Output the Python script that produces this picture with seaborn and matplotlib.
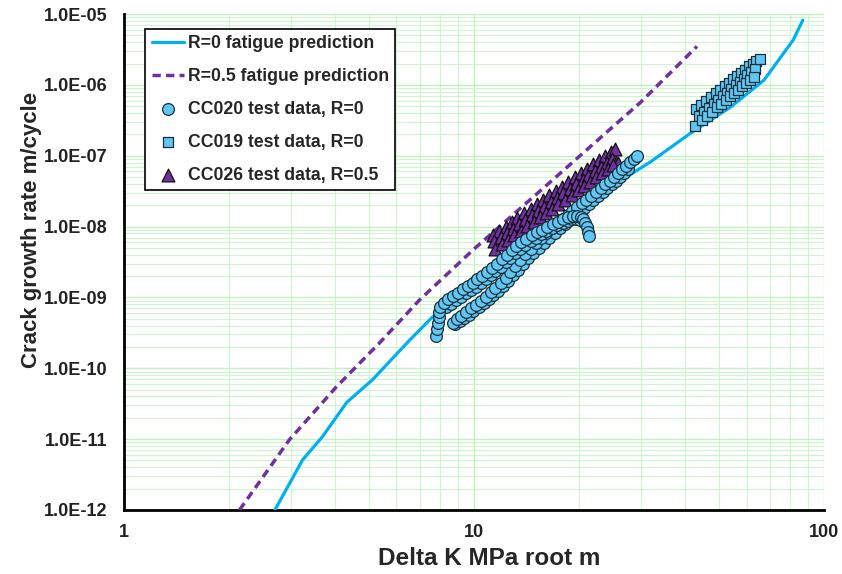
import numpy as np
import pandas as pd
import matplotlib
matplotlib.use("Agg")
import matplotlib.pyplot as plt
import seaborn as sns
from matplotlib.ticker import FuncFormatter, LogLocator, NullFormatter

# R=0 fatigue prediction (solid line)
r0_dk = [2.7, 3.24, 3.69, 4.33, 5.13, 6.55, 7.58, 10.0, 14.0, 19.2, 31.9, 41.6, 54.1, 67.3, 81.5, 86.8]
r0_rate = [1.0e-12, 5.1e-12, 1.08e-11, 3.3e-11, 6.9e-11, 2.5e-10, 5.2e-10, 1.5e-9, 5.5e-9, 1.7e-8,
           8.2e-8, 2.1e-7, 4.9e-7, 1.17e-6, 4.3e-6, 8.2e-6]

# R=0.5 fatigue prediction (dashed line)
r05_dk = [2.14, 2.97, 4.05, 5.38, 7.0, 9.94, 16.8, 29.9, 43.3]
r05_rate = [1.0e-12, 9.8e-12, 5.5e-11, 2.3e-10, 9.3e-10, 4.7e-9, 4.6e-8, 5.7e-7, 3.5e-6]

# CC020 test data, R=0 -- upper run (hooks over near 20), two rows of readings
cc020_dk_a1 = [7.80, 7.83, 7.87, 7.92, 7.96, 8.0, 8.2, 8.45, 8.7, 9.0, 9.3, 9.6, 9.9, 10.2, 10.55,
               10.9, 11.25, 11.6, 12.0, 12.4, 12.8, 13.2, 13.65, 14.1, 14.6, 15.1, 15.65, 16.2,
               16.8, 17.4, 18.0, 18.6, 19.2, 19.7, 20.15, 20.5, 20.8, 21.0, 21.2, 21.35]
cc020_rate_a1 = [2.9e-10, 3.6e-10, 4.4e-10, 5.3e-10, 6.3e-10, 7.4e-10, 8.4e-10, 9.4e-10, 1.04e-9,
                 1.16e-9, 1.3e-9, 1.45e-9, 1.62e-9, 1.8e-9, 2.02e-9, 2.28e-9, 2.6e-9, 2.98e-9,
                 3.45e-9, 4.0e-9, 4.6e-9, 5.3e-9, 6.0e-9, 6.7e-9, 7.5e-9, 8.3e-9, 9.1e-9, 1.0e-8,
                 1.09e-8, 1.18e-8, 1.27e-8, 1.35e-8, 1.41e-8, 1.43e-8, 1.38e-8, 1.27e-8, 1.13e-8,
                 9.8e-9, 8.5e-9, 7.4e-9]
cc020_dk_a2 = [8.3, 8.6, 8.9, 9.2, 9.5, 9.8, 10.1, 10.45, 10.8, 11.15, 11.5, 11.9, 12.3, 12.7, 13.1,
               13.55, 14.0, 14.5, 15.0, 15.55, 16.1, 16.7, 17.3, 17.9, 18.5, 19.1, 19.6, 20.1]
cc020_rate_a2 = [7.4e-10, 8.2e-10, 9.1e-10, 1.02e-9, 1.14e-9, 1.27e-9, 1.42e-9, 1.6e-9, 1.8e-9,
                 2.05e-9, 2.35e-9, 2.7e-9, 3.15e-9, 3.65e-9, 4.2e-9, 4.85e-9, 5.5e-9, 6.2e-9,
                 7.0e-9, 7.8e-9, 8.7e-9, 9.6e-9, 1.05e-8, 1.13e-8, 1.2e-8, 1.26e-8, 1.28e-8, 1.24e-8]
# CC020 lower run (keeps climbing to ~29)
cc020_dk_b1 = [8.7, 8.95, 9.2, 9.5, 9.8, 10.1, 10.45, 10.8, 11.15, 11.5, 11.9, 12.3, 12.7, 13.1,
               13.55, 14.0, 14.5, 15.0, 15.55, 16.1, 16.7, 17.3, 17.9, 18.5, 19.1, 19.7, 20.3,
               20.9, 21.6, 22.3, 23.0, 23.7, 24.4, 25.1, 25.8, 26.5, 27.2, 27.9, 28.6, 29.2]
cc020_rate_b1 = [4.4e-10, 4.9e-10, 5.5e-10, 6.2e-10, 7.0e-10, 7.9e-10, 9.0e-10, 1.03e-9, 1.18e-9,
                 1.36e-9, 1.6e-9, 1.9e-9, 2.3e-9, 2.8e-9, 3.4e-9, 4.1e-9, 4.9e-9, 5.8e-9, 6.9e-9,
                 8.1e-9, 9.5e-9, 1.1e-8, 1.27e-8, 1.45e-8, 1.65e-8, 1.88e-8, 2.13e-8, 2.4e-8,
                 2.72e-8, 3.08e-8, 3.5e-8, 3.95e-8, 4.45e-8, 5.0e-8, 5.65e-8, 6.4e-8, 7.2e-8,
                 8.1e-8, 9.1e-8, 1.0e-7]
cc020_dk_b2 = [8.85, 9.1, 9.35, 9.65, 9.95, 10.3, 10.65, 11.0, 11.35, 11.7, 12.1, 12.5, 12.9, 13.35,
               13.8, 14.25, 14.75, 15.3, 15.8, 16.4, 17.0, 17.6, 18.2, 18.8, 19.4, 20.0, 20.6,
               21.25, 21.9, 22.6, 23.3, 24.0, 24.7, 25.4, 26.1, 26.8, 27.5]
cc020_rate_b2 = [4.2e-10, 4.6e-10, 5.1e-10, 5.7e-10, 6.4e-10, 7.3e-10, 8.3e-10, 9.5e-10, 1.09e-9,
                 1.25e-9, 1.46e-9, 1.72e-9, 2.05e-9, 2.48e-9, 3.0e-9, 3.55e-9, 4.25e-9, 5.05e-9,
                 5.9e-9, 7.0e-9, 8.2e-9, 9.5e-9, 1.1e-8, 1.26e-8, 1.44e-8, 1.64e-8, 1.85e-8, 2.1e-8,
                 2.4e-8, 2.72e-8, 3.08e-8, 3.5e-8, 3.95e-8, 4.45e-8, 5.0e-8, 5.65e-8, 6.4e-8]

# CC019 test data, R=0
cc019_dk = [43.0, 44.5, 46.0, 47.5, 49.0, 50.5, 52.0, 53.5, 55.0, 56.5, 58.0, 59.5, 61.0, 62.5, 64.0,
            43.8, 45.3, 46.8, 48.3, 49.8, 51.3, 52.8, 54.3, 55.8, 57.3, 58.8, 60.3, 61.8, 63.3, 65.5,
            42.8, 44.8, 46.3, 47.8, 49.3, 50.8, 52.3, 53.8, 55.3, 56.8, 58.3, 59.8, 61.3, 62.8]
cc019_rate = [4.5e-7, 5.2e-7, 5.9e-7, 6.7e-7, 7.6e-7, 8.6e-7, 9.6e-7, 1.08e-6, 1.2e-6, 1.34e-6,
              1.49e-6, 1.65e-6, 1.82e-6, 2.0e-6, 2.2e-6,
              3.6e-7, 4.1e-7, 4.7e-7, 5.4e-7, 6.1e-7, 6.9e-7, 7.8e-7, 8.8e-7, 9.9e-7, 1.1e-6,
              1.23e-6, 1.37e-6, 1.52e-6, 1.7e-6, 2.35e-6,
              2.6e-7, 3.2e-7, 3.7e-7, 4.2e-7, 4.8e-7, 5.4e-7, 6.1e-7, 6.9e-7, 7.7e-7, 8.6e-7,
              9.6e-7, 1.07e-6, 1.18e-6, 1.3e-6]

# CC026 test data, R=0.5
cc026_dk = [11.3, 11.8, 12.3, 12.8, 13.3, 13.9, 14.5, 15.1, 15.7, 16.4, 17.1, 17.8, 18.6, 19.4, 20.2,
            21.0, 21.9, 22.8, 23.7, 24.6, 25.3,
            11.4, 11.9, 12.4, 12.9, 13.45, 14.0, 14.65, 15.25, 15.85, 16.55, 17.25, 18.0, 18.8,
            19.6, 20.4, 21.2, 22.1, 23.0, 23.9, 24.8, 25.8,
            11.5, 12.0, 12.5, 13.0, 13.6, 14.2, 14.8, 15.4, 16.0, 16.7, 17.4, 18.2, 19.0, 19.8, 20.6,
            21.4, 22.3, 23.2, 24.1, 25.0]
cc026_rate = [7.5e-9, 8.7e-9, 1.0e-8, 1.16e-8, 1.33e-8, 1.55e-8, 1.79e-8, 2.06e-8, 2.36e-8, 2.75e-8,
              3.18e-8, 3.66e-8, 4.27e-8, 4.95e-8, 5.7e-8, 6.5e-8, 7.6e-8, 8.7e-8, 1.0e-7, 1.13e-7,
              1.25e-7,
              6.2e-9, 7.1e-9, 8.2e-9, 9.4e-9, 1.08e-8, 1.25e-8, 1.44e-8, 1.66e-8, 1.9e-8, 2.2e-8,
              2.55e-8, 2.95e-8, 3.42e-8, 3.95e-8, 4.55e-8, 5.2e-8, 6.05e-8, 7.0e-8, 8.0e-8, 9.0e-8,
              8.0e-8,
              4.9e-9, 5.6e-9, 6.5e-9, 7.5e-9, 8.8e-9, 1.02e-8, 1.17e-8, 1.35e-8, 1.55e-8, 1.8e-8,
              2.07e-8, 2.4e-8, 2.8e-8, 3.25e-8, 3.75e-8, 4.3e-8, 5.0e-8, 5.8e-8, 6.6e-8, 7.5e-8]


def main():
    sns.set_style("white")
    plt.rcParams['font.family'] = ['Liberation Sans', 'DejaVu Sans']

    fig = plt.figure(figsize=(8.42, 5.74), dpi=100)
    ax = fig.add_axes([0.147, 0.1115, 0.832, 0.864])
    ax.set_xscale('log')
    ax.set_yscale('log')

    sns.lineplot(x=r0_dk, y=r0_rate, ax=ax, color='#00B0F0', linewidth=2.3,
                 sort=False, label='R=0 fatigue prediction', zorder=3)
    sns.lineplot(x=r05_dk, y=r05_rate, ax=ax, color='#7030A0', linewidth=2.5,
                 linestyle=(0, (2.4, 1.5)), sort=False,
                 label='R=0.5 fatigue prediction', zorder=3)

    cc020 = pd.DataFrame({'dk': cc020_dk_b2 + cc020_dk_b1 + cc020_dk_a2 + cc020_dk_a1,
                          'rate': cc020_rate_b2 + cc020_rate_b1 + cc020_rate_a2 + cc020_rate_a1})
    sns.scatterplot(data=cc020, x='dk', y='rate', ax=ax, marker='o', s=72,
                    color='#62C6F2', edgecolor='#17303d', linewidth=0.9,
                    label='CC020 test data, R=0', zorder=6)
    sns.scatterplot(x=cc019_dk, y=cc019_rate, ax=ax, marker='s', s=62,
                    color='#62C6F2', edgecolor='#17303d', linewidth=0.9,
                    label='CC019 test data, R=0', zorder=5)
    sns.scatterplot(x=cc026_dk, y=cc026_rate, ax=ax, marker='^', s=85,
                    color='#7030A0', edgecolor='#111111', linewidth=0.9,
                    label='CC026 test data, R=0.5', zorder=4)

    ax.set_xlim(1, 100)
    ax.set_ylim(1e-12, 1e-5)

    ax.xaxis.set_minor_locator(LogLocator(base=10, subs=np.arange(2, 10)))
    ax.yaxis.set_minor_locator(LogLocator(base=10, subs=np.arange(2, 10), numticks=20))
    ax.yaxis.set_major_locator(LogLocator(base=10, numticks=20))
    ax.xaxis.set_major_formatter(FuncFormatter(lambda v, p: '{:g}'.format(v)))
    ax.yaxis.set_major_formatter(FuncFormatter(lambda v, p: '{:.1E}'.format(v)))
    ax.xaxis.set_minor_formatter(NullFormatter())
    ax.yaxis.set_minor_formatter(NullFormatter())

    ax.grid(True, which='major', color='#BFF2BF', linewidth=1.0)
    ax.grid(True, which='minor', color='#CFF5CF', linewidth=0.8)
    ax.set_axisbelow(True)

    ax.tick_params(axis='both', which='both', length=0)
    ax.tick_params(axis='y', pad=12, labelsize=13, labelcolor='#222222')
    ax.tick_params(axis='x', pad=10, labelsize=13, labelcolor='#222222')
    for lab in ax.get_xticklabels() + ax.get_yticklabels():
        lab.set_fontweight('bold')

    for side in ['top', 'right']:
        ax.spines[side].set_visible(False)
    for side in ['left', 'bottom']:
        ax.spines[side].set_color('black')
        ax.spines[side].set_linewidth(2)

    ax.set_xlabel('Delta K MPa root m', fontsize=17.5, fontweight='bold')
    ax.set_ylabel('Crack growth rate m/cycle', fontsize=16, fontweight='bold')
    ax.xaxis.set_label_coords(0.521, -0.075)
    ax.yaxis.set_label_coords(-0.117, 0.565)

    leg = ax.legend(loc='upper left', bbox_to_anchor=(0.031, 0.970), borderaxespad=0,
                    prop={'weight': 'bold', 'size': 12.7}, labelspacing=0.9,
                    handlelength=1.85, handletextpad=0.22, borderpad=0.35,
                    fancybox=False, framealpha=1, edgecolor='black')
    leg.get_frame().set_linewidth(1.2)
    leg.set_zorder(10)

    fig.savefig('out.png', dpi=100)
    plt.close(fig)


if __name__ == '__main__':
    main()
